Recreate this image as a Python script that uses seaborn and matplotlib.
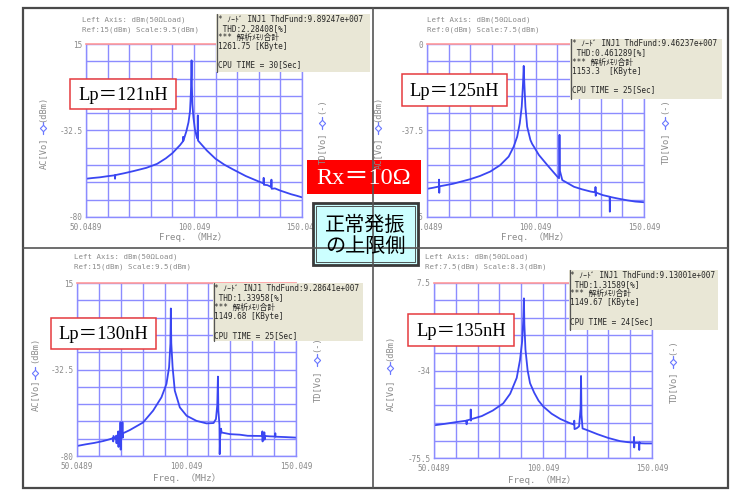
import numpy as np
import matplotlib
matplotlib.use("Agg")
import matplotlib.pyplot as plt
import seaborn as sns
from matplotlib.patches import Rectangle

# ---------------- data ----------------
FMIN, FMAX = 50.0489, 150.049
x_tick_labels = ["50.0489", "100.049", "150.049"]

lp_labels = ["Lp＝121nH", "Lp＝125nH", "Lp＝130nH", "Lp＝135nH"]

freq_121 = [50.05, 53.0, 56.5, 60.0, 63.4, 63.5, 63.6, 68.0, 72.0, 78.0, 83.0, 87.0, 90.0,
            92.0, 93.6, 94.9, 95.0, 95.1, 96.5, 97.5, 98.2, 98.6, 98.85, 98.92, 99.0, 99.3,
            99.8, 100.5, 101.2, 101.7, 101.8, 101.9, 103.0, 106.0, 110.0, 114.0, 118.0, 124.0,
            130.0, 132.2, 132.3, 132.4, 134.0, 135.8, 135.9, 136.0, 137.5, 140.0, 142.5,
            145.0, 147.5, 150.05]
dbm_121 = [-59.0, -58.6, -58.2, -57.6, -57.1, -59.0, -57.0, -55.9, -54.8, -53.0, -50.8, -47.8,
           -45.0, -42.5, -40.5, -38.5, -36.0, -38.2, -33.0, -28.0, -22.0, -12.0, -2.0, 6.0,
           -5.0, -18.0, -25.5, -32.0, -35.5, -37.0, -24.2, -38.0, -39.5, -43.5, -48.0, -51.2,
           -53.8, -57.5, -60.5, -61.5, -58.5, -62.3, -62.5, -63.5, -59.5, -64.5, -64.3, -65.5,
           -66.5, -67.5, -68.3, -69.2]

freq_125 = [50.05, 53.0, 55.5, 55.6, 55.7, 55.8, 62.0, 66.0, 70.0, 74.5, 79.2, 83.8, 87.7,
            90.0, 91.6, 92.8, 93.7, 94.3, 94.62, 94.9, 95.4, 96.2, 97.7, 98.5, 99.3, 101.6,
            105.5, 110.1, 110.9, 111.1, 111.3, 112.4, 117.8, 121.5, 125.6, 127.6, 127.7, 127.8,
            127.9, 131.0, 134.2, 134.3, 134.4, 138.0, 142.5, 146.0, 150.05]
dbm_125 = [-62.8, -62.3, -61.8, -58.8, -64.5, -61.7, -60.6, -59.6, -58.6, -57.2, -55.3, -52.5,
           -48.8, -44.5, -40.2, -34.4, -27.2, -17.0, -9.5, -17.0, -27.2, -35.8, -41.6, -43.3,
           -44.5, -48.1, -52.5, -57.5, -58.2, -39.4, -55.0, -59.0, -61.9, -63.0, -64.0, -64.3,
           -62.0, -65.8, -64.4, -65.5, -66.2, -72.7, -66.3, -67.0, -67.8, -68.3, -68.6]

freq_130 = [50.05, 54.0, 58.0, 62.0, 65.0, 66.5, 66.6, 66.7, 67.5, 68.0, 68.1, 68.2, 68.8,
            68.9, 69.0, 69.1, 69.8, 69.9, 70.0, 70.1, 70.7, 70.8, 70.9, 71.0, 72.0, 74.1, 80.2,
            84.8, 88.6, 90.9, 92.1, 92.7, 92.9, 93.1, 93.7, 94.7, 97.0, 100.1, 104.6, 109.2,
            112.4, 113.5, 114.1, 114.4, 114.6, 115.1, 115.2, 115.4, 115.8, 116.1, 119.9, 124.4,
            128.0, 134.0, 134.6, 134.7, 134.8, 134.9, 135.5, 135.6, 135.7, 135.8, 138.0, 140.5,
            140.6, 140.7, 145.0, 150.05]
dbm_130 = [-74.5, -73.6, -72.8, -71.8, -70.8, -70.2, -72.0, -69.0, -70.5, -68.8, -73.0, -69.5,
           -69.8, -66.5, -75.0, -69.0, -69.5, -61.5, -76.5, -68.5, -69.0, -61.5, -70.0, -67.5,
           -67.0, -65.8, -61.6, -55.1, -47.8, -40.4, -31.2, -18.3, 1.0, -18.0, -31.2, -44.1,
           -53.3, -57.9, -60.7, -62.1, -61.9, -59.7, -52.0, -36.4, -55.0, -63.0, -79.0, -70.0,
           -65.0, -67.1, -68.0, -68.3, -68.9, -69.0, -69.0, -66.5, -72.0, -68.8, -69.0, -67.0,
           -71.0, -69.0, -69.2, -69.3, -67.5, -69.4, -69.6, -69.9]

freq_135 = [50.05, 55.0, 60.0, 64.9, 65.0, 65.1, 66.8, 66.9, 67.0, 67.1, 72.0, 77.0, 81.8,
            85.0, 88.0, 89.5, 90.5, 91.0, 91.3, 91.5, 92.0, 93.0, 94.1, 96.0, 98.0, 100.2,
            104.0, 108.0, 112.4, 114.3, 114.4, 114.5, 115.5, 116.6, 117.3, 117.5, 117.7, 118.2,
            120.1, 125.0, 130.0, 135.4, 139.0, 141.7, 141.8, 141.9, 142.0, 144.1, 144.2, 144.3,
            144.4, 147.0, 150.05]
dbm_135 = [-60.0, -59.3, -58.5, -57.8, -59.5, -57.7, -57.2, -52.5, -57.8, -57.1, -55.6, -53.0,
           -49.6, -45.0, -37.5, -29.0, -20.0, -10.0, 0.2, -12.0, -24.0, -34.0, -40.0, -44.5,
           -48.3, -51.1, -54.5, -57.0, -59.0, -59.6, -57.8, -61.8, -61.4, -60.5, -52.0, -36.6,
           -55.0, -61.5, -62.2, -64.2, -66.0, -67.5, -68.0, -68.2, -65.5, -70.5, -68.3, -68.4,
           -71.7, -68.0, -68.5, -68.6, -68.6]

y_ranges = [(-80, 15), (-75, 0), (-80, 15), (-75.5, 7.5)]
y_tick_labels = [["15", "-32.5", "-80"], ["0", "-37.5", "-75"],
                 ["15", "-32.5", "-80"], ["7.5", "-34", "-75.5"]]
titles = [["Left Axis: dBm(50ΩLoad)", "Ref:15(dBm) Scale:9.5(dBm)"],
          ["Left Axis: dBm(50ΩLoad)", "Ref:0(dBm) Scale:7.5(dBm)"],
          ["Left Axis: dBm(50ΩLoad)", "Ref:15(dBm) Scale:9.5(dBm)"],
          ["Left Axis: dBm(50ΩLoad)", "Ref:7.5(dBm) Scale:8.3(dBm)"]]
thd_fund = ["9.89247e+007", "9.46237e+007", "9.28641e+007", "9.13001e+007"]
thd = ["2.28408", "0.461289", "1.33958", "1.31589"]
memory = ["1261.75", "1153.3 ", "1149.68", "1149.67"]
cpu = ["30", "25", "25", "24"]

# ---------------- style ----------------
sns.set_style("white")
MONO = ["DejaVu Sans Mono", "Noto Sans CJK JP"]
SERIF = ["Liberation Serif", "Noto Sans CJK JP"]
plt.rcParams["font.family"] = MONO
CURVE = "#3a46f2"
GRID = "#8c8cff"
GRAY = "#8a8a8a"

W, H = 739, 494
fig = plt.figure(figsize=(W / 100, H / 100), dpi=100)
fig.patch.set_facecolor("white")

# plot rectangles in pixels: left, right, top, bottom
rects = [(86, 302, 44, 217), (427, 644, 44, 217), (77, 296, 283, 456), (434, 652, 283, 458)]
series = [(freq_121, dbm_121), (freq_125, dbm_125), (freq_130, dbm_130), (freq_135, dbm_135)]

for (l, r, t, b), (fq, db), (ymin, ymax), ylab in zip(rects, series, y_ranges, y_tick_labels):
    ax = fig.add_axes([l / W, 1 - b / H, (r - l) / W, (b - t) / H])
    sns.lineplot(x=fq, y=db, ax=ax, estimator=None, sort=False, color=CURVE, linewidth=1.3)
    ax.set_xlim(FMIN, FMAX)
    ax.set_ylim(ymin, ymax)
    ax.set_xticks(np.linspace(FMIN, FMAX, 11))
    ax.set_yticks(np.linspace(ymin, ymax, 11))
    ax.set_xticklabels([x_tick_labels[0]] + [""] * 4 + [x_tick_labels[1]] + [""] * 4 + [x_tick_labels[2]])
    ax.set_yticklabels([ylab[2]] + [""] * 4 + [ylab[1]] + [""] * 4 + [ylab[0]])
    ax.grid(True, color=GRID, lw=1.0)
    ax.set_axisbelow(True)
    ax.tick_params(axis="x", length=0, pad=4.0, labelsize=5.5, labelcolor=GRAY)
    ax.tick_params(axis="y", length=0, pad=2.5, labelsize=5.5, labelcolor=GRAY)
    for s in ["left", "right", "bottom"]:
        ax.spines[s].set_color(GRID)
        ax.spines[s].set_linewidth(1.0)
    ax.spines["top"].set_color("#ff9a9a")
    ax.spines["top"].set_linewidth(1.2)
    ax.set_xlabel("")
    ax.set_ylabel("")
    ax.set_facecolor("white")

# ---------------- overlay (pixel coordinates) ----------------
ov = fig.add_axes([0, 0, 1, 1], zorder=5)
ov.set_xlim(0, W)
ov.set_ylim(H, 0)
ov.axis("off")

# outer frame + dividers
ov.add_patch(Rectangle((23, 8), 705, 480, fill=False, ec="#4a4a4a", lw=1.6))
ov.plot([373, 373], [8, 488], color="#555555", lw=1.2)
ov.plot([23, 728], [248, 248], color="#555555", lw=1.2)

# titles
title_pos = [(82, 20), (427, 20), (74, 257), (425, 257)]
for (x, y), tt in zip(title_pos, titles):
    ov.text(x, y, tt[0], fontsize=5.3, color=GRAY, va="center", ha="left", family=MONO)
    ov.text(x, y + 9.5, tt[1], fontsize=5.3, color=GRAY, va="center", ha="left", family=MONO)

# x labels
xlab_pos = [(193, 237), (535, 237), (187, 478), (542, 480)]
for x, y in xlab_pos:
    ov.text(x, y, "Freq. （MHz）", fontsize=6.6, color=GRAY, ha="center", va="center", family=MONO)


def vlabel(x, y_main, y_sym, y_unit, main, unit):
    ov.text(x, y_main, main, rotation=90, fontsize=6.2, color=GRAY, ha="center", va="center", family=MONO)
    ov.plot([x, x], [y_sym - 6, y_sym + 6], color="#6a78ff", lw=0.9)
    ov.plot([x], [y_sym], marker="D", ms=3.2, mfc="white", mec="#6a78ff", mew=0.8)
    ov.text(x, y_unit, unit, rotation=90, fontsize=6.2, color=GRAY, ha="center", va="center", family=MONO)


vlabel(43, 153, 128, 109, "AC[Vo]", "(dBm)")
vlabel(322, 148, 123, 106, "TD[Vo]", "(-)")
vlabel(378, 153, 128, 109, "AC[Vo]", "(dBm)")
vlabel(665, 148, 123, 106, "TD[Vo]", "(-)")
vlabel(35, 395, 373, 350, "AC[Vo]", "(dBm)")
vlabel(317, 386, 360, 344, "TD[Vo]", "(-)")
vlabel(390, 395, 368, 348, "AC[Vo]", "(dBm)")
vlabel(673, 387, 362, 347, "TD[Vo]", "(-)")

# info boxes
info_boxes = [(216, 14, 154, 58, [19.5, 28.5, 37.5, 46.5, 64.5]),
              (570, 39, 152, 60, [43.5, 52.7, 62.0, 71.0, 90.0]),
              (213, 283, 150, 58, [288.3, 297.7, 307.3, 316.7, 335.7]),
              (569, 270, 149, 60, [275.0, 284.3, 293.3, 302.7, 321.7])]
for i, (x, y, w, h, ys) in enumerate(info_boxes):
    ov.add_patch(Rectangle((x, y), w, h, fc="#e9e7d6", ec="none"))
    ov.plot([x + 0.5, x + 0.5], [y, y + h], color="#555555", lw=0.9)
    lines = ["* ﾉｰﾄﾞ INJ1 ThdFund:" + thd_fund[i],
             " THD:" + thd[i] + "[%]",
             "*** 解析ﾒﾓﾘ合計",
             memory[i] + " [KByte]",
             "CPU TIME = " + cpu[i] + "[Sec]"]
    for ln, yy in zip(lines, ys):
        ov.text(x + 1.5, yy, ln, fontsize=5.6, color="#262626", va="center", ha="left", family=MONO)

# Lp labels
lp_boxes = [(70, 79, 106, 30), (402, 74, 105, 32), (51, 318, 105, 31), (408, 314, 106, 32)]
for (x, y, w, h), txt in zip(lp_boxes, lp_labels):
    ov.add_patch(Rectangle((x, y), w, h, fc="white", ec="#e53a3f", lw=1.1))
    ov.text(x + w / 2, y + h / 2 + 1, txt, fontsize=13.3, color="black", ha="center", va="center", family=SERIF)

# Rx label
ov.add_patch(Rectangle((307, 160), 114, 34, fc="#ff0000", ec="none"))
ov.text(364, 178, "Rx＝10Ω", fontsize=17.5, color="white", ha="center", va="center", family=SERIF)

# cyan note
ov.add_patch(Rectangle((313, 203), 105, 62, fc="#ccffff", ec="#3a3a3a", lw=2.0))
ov.add_patch(Rectangle((316, 206), 99, 56, fill=False, ec="#3a3a3a", lw=0.6))
ov.text(365.5, 225, "正常発振", fontsize=14.5, color="black", ha="center", va="center", family=["Noto Sans CJK JP"])
ov.text(365.5, 246, "の上限側", fontsize=14.5, color="black", ha="center", va="center", family=["Noto Sans CJK JP"])

fig.savefig("out.png", dpi=100, facecolor="white")
